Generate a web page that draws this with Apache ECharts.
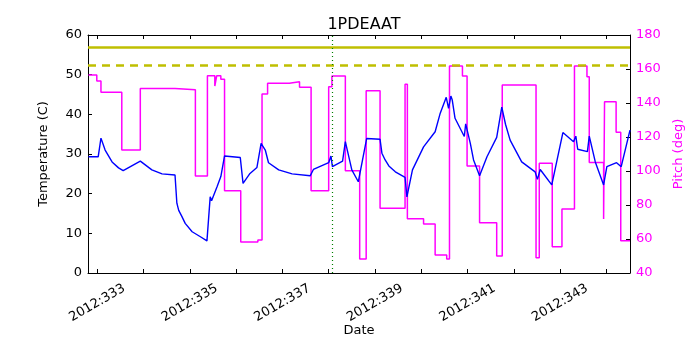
<!DOCTYPE html>
<html>
<head>
<meta charset="utf-8">
<script src="https://cdn.jsdelivr.net/npm/echarts@6/dist/echarts.min.js"></script>
<style>
  html, body { margin: 0; padding: 0; background: #fff; }
  #chart { width: 700px; height: 350px; }
</style>
</head>
<body>
<div id="chart"></div>
<script>
// day of year 2012, temperature (C)
const tempDays = [332.81, 333.02, 333.08, 333.17, 333.32, 333.46, 333.56, 333.93, 334.18, 334.40,
  334.68, 334.72, 334.76, 334.83, 334.90, 335.05, 335.22, 335.37, 335.44, 335.47, 335.59, 335.67,
  335.75, 336.09, 336.15, 336.30, 336.45, 336.54, 336.63, 336.70, 336.74, 336.92,
  337.21, 337.60, 337.67, 338.00, 338.05, 338.08, 338.30, 338.36, 338.50, 338.64,
  338.67, 338.82, 339.11, 339.15, 339.22, 339.30, 339.44, 339.65, 339.69, 339.81, 340.05,
  340.30, 340.41, 340.54, 340.59, 340.64, 340.67, 340.73, 340.93, 340.96, 341.06,
  341.13, 341.26, 341.42, 341.63, 341.74, 341.82, 341.92, 342.17, 342.46, 342.51, 342.57,
  342.82, 343.06, 343.29, 343.34, 343.38, 343.59, 343.63, 343.76, 343.94, 344.01,
  344.22, 344.32, 344.51];
const tempValues = [29.3, 29.3, 34.0, 31.0, 28.0, 26.5, 25.8, 28.2, 26.0, 25.0,
  24.7, 17.6, 15.8, 14.2, 12.5, 10.4, 9.2, 8.1, 19.2, 18.2, 21.8, 24.3,
  29.5, 29.1, 22.6, 25.1, 26.6, 32.7, 31.0, 27.8, 28.3, 26.0,
  25.0, 24.5, 26.1, 27.8, 29.5, 26.8, 28.2, 33.1, 26.0, 23.0,
  22.8, 33.9, 33.7, 30.2, 28.5, 27.0, 25.5, 24.1, 19.2, 26.0, 31.8,
  35.6, 40.3, 44.3, 41.5, 44.6, 43.6, 39.0, 34.4, 37.6, 32.7,
  28.5, 24.5, 29.3, 34.2, 41.8, 37.5, 33.5, 28.0, 25.5, 23.6, 26.1,
  22.2, 35.4, 33.1, 34.5, 31.2, 30.6, 34.5, 28.0, 22.2, 26.8,
  27.8, 26.8, 36.0];

// pitch (deg), each value holds from its day until the next one
const pitchDays = [332.81, 332.99, 333.08, 333.53, 333.93, 334.68, 335.12, 335.38, 335.54, 335.58,
  335.67, 335.75, 336.10, 336.47, 336.56, 336.68, 337.15, 337.37, 337.62, 338.00,
  338.07, 338.36, 338.67, 338.81, 339.11, 339.65, 339.70, 340.05, 340.30, 340.55,
  340.61, 340.89, 340.99, 341.26, 341.63, 341.75, 342.48, 342.55, 342.83, 343.04,
  343.31, 343.58, 343.63, 343.94, 343.96, 344.21, 344.31, 344.51];
const pitchValues = [156.5, 153.0, 146.3, 112.4, 148.6, 147.8, 97.0, 156.0, 150.0, 156.0,
  154.0, 88.4, 58.2, 59.4, 145.3, 151.6, 152.5, 149.2, 88.4, 149.6,
  155.9, 100.2, 48.2, 147.2, 78.1, 151.0, 71.9, 68.8, 50.6, 48.2,
  161.8, 155.9, 102.9, 69.6, 50.0, 150.6, 49.0, 104.5, 55.5, 77.6,
  161.8, 155.5, 105.0, 71.8, 140.8, 122.8, 59.0, 59.0];

const limitHigh = 57;
const limitLow = 52.5;
const eventDay = 338.07;

const tickDays = [333, 334, 335, 336, 337, 338, 339, 340, 341, 342, 343, 344];
const labelDays = [333, 335, 337, 339, 341, 343];

const chart = echarts.init(document.getElementById('chart'));
const font = 'DejaVu Sans';

const option = {
  animation: false,
  title: {
    text: '1PDEAAT',
    left: 359,
    top: 12,
    textAlign: 'center',
    textStyle: { fontFamily: font, fontSize: 16, fontWeight: 'normal', color: '#000' }
  },
  grid: { left: 88, right: 70, top: 35, bottom: 77 },
  xAxis: [
    {
      type: 'value',
      min: 332.8,
      max: 344.51,
      name: 'Date',
      nameLocation: 'middle',
      nameGap: 51,
      nameMoveOverlap: false,
      nameTextStyle: { fontFamily: font, fontSize: 13, color: '#000' },
      axisLine: { show: true, lineStyle: { color: '#000', width: 1 } },
      axisTick: { show: true, inside: true, length: 4, customValues: tickDays, lineStyle: { color: '#000' } },
      axisLabel: {
        customValues: labelDays,
        rotate: 30,
        align: 'center',
        verticalAlign: 'middle',
        margin: 30,
        fontFamily: font,
        fontSize: 13,
        color: '#000',
        formatter: v => '2012:' + v
      },
      splitLine: { show: false }
    },
    {
      type: 'value',
      position: 'top',
      min: 332.8,
      max: 344.51,
      axisLine: { show: true, lineStyle: { color: '#000', width: 1 } },
      axisTick: { show: true, inside: true, length: 4, customValues: tickDays, lineStyle: { color: '#000' } },
      axisLabel: { show: false },
      splitLine: { show: false }
    }
  ],
  yAxis: [
    {
      type: 'value',
      min: 0,
      max: 60,
      interval: 10,
      name: 'Temperature (C)',
      nameLocation: 'middle',
      nameGap: 38,
      nameTextStyle: { fontFamily: font, fontSize: 13, color: '#000' },
      axisLine: { show: true, lineStyle: { color: '#000', width: 1 } },
      axisTick: { show: true, inside: true, length: 4, lineStyle: { color: '#000' } },
      axisLabel: { fontFamily: font, fontSize: 13, color: '#000', margin: 6 },
      splitLine: { show: false }
    },
    {
      type: 'value',
      min: 40,
      max: 180,
      interval: 20,
      position: 'right',
      name: 'Pitch (deg)',
      nameLocation: 'middle',
      nameGap: 42,
      nameTextStyle: { fontFamily: font, fontSize: 13, color: '#ff00ff' },
      axisLine: { show: true, lineStyle: { color: '#000', width: 1 } },
      axisTick: { show: true, inside: true, length: 4, lineStyle: { color: '#000' } },
      axisLabel: { fontFamily: font, fontSize: 13, color: '#ff00ff', margin: 6 },
      splitLine: { show: false }
    }
  ],
  series: [
    {
      name: 'Pitch',
      type: 'line',
      yAxisIndex: 1,
      step: 'end',
      showSymbol: false,
      data: pitchDays.map((d, i) => [d, pitchValues[i]]),
      lineStyle: { color: '#ff00ff', width: 1.5 },
      z: 2
    },
    {
      name: 'Temperature',
      type: 'line',
      yAxisIndex: 0,
      showSymbol: false,
      data: tempDays.map((d, i) => [d, tempValues[i]]),
      lineStyle: { color: '#0000ff', width: 1.4 },
      z: 3,
      markLine: {
        silent: true,
        symbol: 'none',
        label: { show: false },
        data: [
          { yAxis: limitHigh, lineStyle: { color: '#bfbf00', width: 2.5, type: 'solid' } },
          { yAxis: limitLow, lineStyle: { color: '#bfbf00', width: 2.5, type: [8, 6] } },
          { xAxis: eventDay, lineStyle: { color: '#008000', width: 1.2, type: [1, 3] } }
        ]
      }
    }
  ]
};

chart.setOption(option);
</script>
</body>
</html>
